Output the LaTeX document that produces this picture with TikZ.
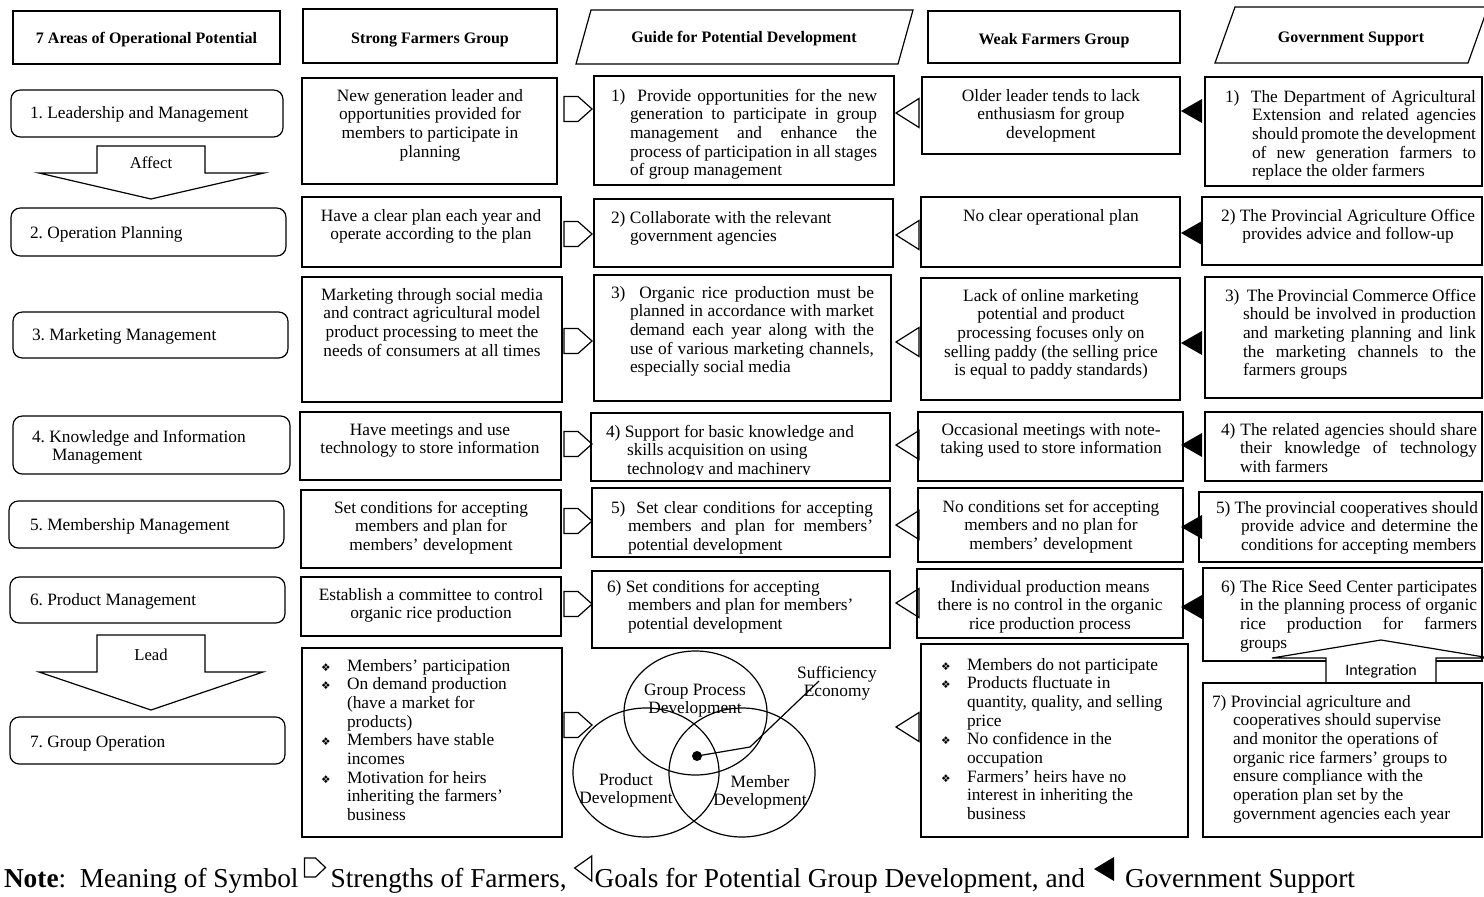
\documentclass[tikz,border=0pt]{standalone}
\usepackage{fontspec}
\setmainfont{Liberation Serif}
\newfontfamily\dvfont{DejaVu Sans}
\newfontfamily\carfont{Carlito}
\usetikzlibrary{fit,calc}
\newlength\px \setlength\px{0.75pt}
\newcommand\JL[2]{\makebox[#1\px][s]{\spaceskip=0pt\relax #2}}
\newcommand\ind[1]{\hspace*{#1\px}}
\newcommand\bul{\makebox[26\px][l]{\dvfont\fontsize{8pt}{8pt}\selectfont ❖}}
\frenchspacing
\begin{document}
\begin{tikzpicture}[x=0.75pt,y=-0.75pt,
  tx/.style={font=\fontsize{13pt}{14pt}\selectfont, inner sep=0pt, outer sep=0pt,
     execute at begin node={\spaceskip=0.25em\relax\xspaceskip=0.25em\relax}},
  lft/.style={font=\fontsize{13pt}{14pt}\selectfont},
  hd/.style={font=\bfseries\fontsize{12pt}{14pt}\selectfont, inner sep=0pt, anchor=base},
  box/.style={draw, line width=0.9pt, inner sep=0pt, outer sep=0pt},
  rbox/.style={box, rounded corners=7pt},
  ln/.style={line width=0.9pt},
  ctx/.style={tx, anchor=base, align=center, text width=#1\px},
  ltx/.style={tx, anchor=base west, align=left, text width=#1\px},
  nt/.style={font=\fontsize{20.5pt}{24pt}\selectfont, inner sep=0pt, outer sep=0pt, anchor=base west}
]
\useasboundingbox (0,0) rectangle (1484,896);

% ---------- headers ----------
\node[box, fit={(13,11) (280,64)}] (hA) {};
\node[hd] (tA) at (146.5,43) {7 Areas of Operational Potential};
\node[box, fit={(303,9) (557,63)}] (hS) {};
\node[hd] (tS) at (430,43) {Strong Farmers Group};
\draw[ln] (591,10) coordinate (hG1) -- (913,10) -- (898,64) -- (576,64) -- cycle;
\node[hd] (tG) at (744,42) {Guide for Potential Development};
\node[box, fit={(928,11) (1180,63)}] (hW) {};
\node[hd] (tW) at (1054,44) {Weak Farmers Group};
\draw[ln] (1235,7) coordinate (hV1) -- (1488,7) -- (1468,63) -- (1215,63) -- cycle;
\node[hd] (tV) at (1351,42) {Government Support};

% ---------- left column ----------
\node[rbox, fit={(11,90) (283,137)}] (L1) {};
\node[ltx=250, lft] (tL1) at (30,118) {1. Leadership and Management};
\node[rbox, fit={(11,208) (286,256)}] (L2) {};
\node[ltx=250, lft] (tL2) at (30,238) {2. Operation Planning};
\node[rbox, fit={(13,312) (288,358)}] (L3) {};
\node[ltx=250, lft] (tL3) at (32,340) {3. Marketing Management};
\node[rbox, fit={(13,416) (290,474)}] (L4) {};
\node[ltx=250, lft] (tL4) at (32,442) {4. Knowledge and Information\\\ind{20}Management};
\node[rbox, fit={(9,501) (284,548)}] (L5) {};
\node[ltx=250, lft] (tL5) at (30,530) {5. Membership Management};
\node[rbox, fit={(10,577) (285,623)}] (L6) {};
\node[ltx=250, lft] (tL6) at (30,605) {6. Product Management};
\node[rbox, fit={(10,717) (285,764)}] (L7) {};
\node[ltx=250, lft] (tL7) at (30,747) {7. Group Operation};

% Affect / Lead arrows
\draw[ln, fill=white] (97,146) -- (205,146) -- (205,173) -- (264,173) -- (151,199) -- (39,173) -- (97,173) -- cycle;
\node[tx, anchor=base, font=\fontsize{12.5pt}{14pt}\selectfont] (affect) at (151,168) {Affect};
\draw[ln, fill=white] (97,635) -- (205,635) -- (205,672) -- (263,672) -- (151,710) -- (39,672) -- (97,672) -- cycle;
\node[tx, anchor=base, font=\fontsize{12.5pt}{14pt}\selectfont] (lead) at (151,660) {Lead};

% ---------- strong column ----------
\node[box, fit={(302,78) (557,184)}] (S1) {};
\node[ctx=250] (tS1) at (430,101) {New generation leader and\\opportunities provided for\\members to participate in\\planning};
\node[box, fit={(302,197) (561,267)}] (S2) {};
\node[ctx=250] (tS2) at (431,221) {Have a clear plan each year and\\operate according to the plan};
\node[box, fit={(302,277) (562,402)}] (S3) {};
\node[ctx=250] (tS3) at (432,300) {Marketing through social media\\and contract agricultural model\\product processing to meet the\\needs of consumers at all times};
\node[box, fit={(300,412) (561,480)}] (S4) {};
\node[ctx=250] (tS4) at (430,435) {Have meetings and use\\technology to store information};
\node[box, fit={(301,490) (561,568)}] (S5) {};
\node[ctx=250] (tS5) at (431,513) {Set conditions for accepting\\members and plan for\\members’ development};
\node[box, fit={(301,577) (561,636)}] (S6) {};
\node[ctx=250] (tS6) at (431,600) {Establish a committee to control\\organic rice production};
\node[box, fit={(302,648) (562,837)}] (S7) {};
\node[ltx=235] (tS7) at (321,671) {\bul Members’ participation\\\bul On demand production\\\ind{26}(have a market for\\\ind{26}products)\\\bul Members have stable\\\ind{26}incomes\\\bul Motivation for heirs\\\ind{26}inheriting the farmers’\\\ind{26}business};

% ---------- guide column ----------
\node[box, fit={(594,76) (894,185)}] (G1) {};
\node[ltx=275] (tG1) at (611,101) {\JL{266}{1)~~Provide opportunities for the new}\\\ind{19}\JL{247}{generation to participate in group}\\\ind{19}\JL{247}{management and enhance the}\\\ind{19}\JL{247}{process of participation in all stages}\\\ind{19}of group management};
\node[box, fit={(594,199) (893,267)}] (G2) {};
\node[ltx=275] (tG2) at (611,223) {2) Collaborate with the relevant\\\ind{19}government agencies};
\node[box, fit={(594,275) (891,401)}] (G3) {};
\node[ltx=275] (tG3) at (611,298) {\JL{263}{3)~~Organic rice production must be}\\\ind{19}\JL{244}{planned in accordance with market}\\\ind{19}\JL{244}{demand each year along with the}\\\ind{19}\JL{244}{use of various marketing channels,}\\\ind{19}especially social media};
\node[box, fit={(591,413) (890,481)}] (G4) {};
\begin{scope}
\clip (591,413) rectangle (890,474);
\node[ltx=275] (tG4) at (606,437) {4) Support for basic knowledge and\\\ind{21}skills acquisition on using\\\ind{21}technology and machinery};
\end{scope}
\node[box, fit={(592,488) (890,557)}] (G5) {};
\node[ltx=275] (tG5) at (611,513) {\JL{262}{5)~~Set clear conditions for accepting}\\\ind{17}\JL{245}{members and plan for members’}\\\ind{17}potential development};
\node[box, fit={(592,571) (890,648)}] (G6) {};
\node[ltx=275] (tG6) at (607,592) {6) Set conditions for accepting\\\ind{21}members and plan for members’\\\ind{21}potential development};

% Venn diagram
\draw[ln] (695.5,713) ellipse [x radius=71.5, y radius=62];
\draw[ln] (646,772.5) ellipse [x radius=73, y radius=64.5];
\draw[ln] (742,772.5) ellipse [x radius=73, y radius=64.5];
\node[ctx=120] (vG) at (695,695) {Group Process\\Development};
\node[ctx=100] (vP) at (626,785) {Product\\Development};
\node[ctx=100] (vM) at (760,787) {Member\\Development};
\node[ctx=100] (vS) at (837,678) {Sufficiency\\Economy};
\node[circle, fill, inner sep=0pt, minimum size=7.5pt] (dot) at (697,756) {};
\coordinate (bend) at (750,747);
\coordinate (lend) at (819,681);
\draw[ln] (dot.center) -- (bend) -- (lend);

% ---------- weak column ----------
\node[box, fit={(922,77) (1180,154)}] (W1) {};
\node[ctx=255] (tW1) at (1051,101) {Older leader tends to lack\\enthusiasm for group\\development};
\node[box, fit={(921,197) (1180,267)}] (W2) {};
\node[ctx=255] (tW2) at (1051,221) {No clear operational plan};
\node[box, fit={(921,278) (1180,400)}] (W3) {};
\node[ctx=255] (tW3) at (1051,301) {Lack of online marketing\\potential and product\\processing focuses only on\\selling paddy (the selling price\\is equal to paddy standards)};
\node[box, fit={(918,412) (1183,481)}] (W4) {};
\node[ctx=255] (tW4) at (1051,435) {Occasional meetings with note-\\taking used to store information};
\node[box, fit={(918,488) (1183,562)}] (W5) {};
\node[ctx=255] (tW5) at (1051,512) {No conditions set for accepting\\members and no plan for\\members’ development};
\node[box, fit={(917,569) (1183,638)}] (W6) {};
\node[ctx=255] (tW6) at (1050,592) {Individual production means\\there is no control in the organic\\rice production process};
\node[box, fit={(921,644) (1188,837)}] (W7) {};
\node[ltx=235] (tW7) at (941,670) {\bul Members do not participate\\\bul Products fluctuate in\\\ind{26}quantity, quality, and selling\\\ind{26}price\\\bul No confidence in the\\\ind{26}occupation\\\bul Farmers’ heirs have no\\\ind{26}interest in inheriting the\\\ind{26}business};

% ---------- government column ----------
\node[box, fit={(1205,77) (1482,186)}] (V1) {};
\node[ltx=265] (tV1) at (1225,102) {\JL{251}{1)~~The Department of Agricultural}\\\ind{27}\JL{224}{Extension and related agencies}\\\ind{27}\JL{224}{should promote the development}\\\ind{27}\JL{224}{of new generation farmers to}\\\ind{27}replace the older farmers};
\node[box, fit={(1202,197) (1482,265)}] (V2) {};
\node[ctx=270] (tV2) at (1348,221) {2) The Provincial Agriculture Office\\provides advice and follow-up};
\node[box, fit={(1205,277) (1482,398)}] (V3) {};
\node[ltx=265] (tV3) at (1225,301) {\JL{251}{3)~~The Provincial Commerce Office}\\\ind{18}\JL{233}{should be involved in production}\\\ind{18}\JL{233}{and marketing planning and link}\\\ind{18}\JL{233}{the marketing channels to the}\\\ind{18}farmers groups};
\node[box, fit={(1205,412) (1482,481)}] (V4) {};
\node[ltx=270] (tV4) at (1221,435) {\JL{256}{4) The related agencies should share}\\\ind{19}\JL{237}{their knowledge of technology}\\\ind{19}with farmers};
\node[box, fit={(1199,492) (1482,562)}] (V5) {};
\node[ltx=270] (tV5) at (1216,513) {\JL{262}{5) The provincial cooperatives should}\\\ind{25}\JL{237}{provide advice and determine the}\\\ind{25}conditions for accepting members};
\node[box, fit={(1203,568) (1482,661)}] (V6) {};
\node[ltx=270] (tV6) at (1221,592) {\JL{256}{6) The Rice Seed Center participates}\\\ind{19}\JL{237}{in the planning process of organic}\\\ind{19}\JL{237}{rice production for farmers}\\\ind{19}groups};
\draw[ln, fill=white] (1381,640) -- (1490,658) -- (1436,658) -- (1436,683) -- (1326,683) -- (1326,658) -- (1272,658) -- cycle;
\node[inner sep=0pt, anchor=base, font=\carfont\fontsize{12pt}{14pt}\selectfont] (integ) at (1381,675) {Integration};
\node[box, fit={(1203,683) (1482,837)}] (V7) {};
\node[ltx=265] (tV7) at (1212,707) {7) Provincial agriculture and\\\ind{21}cooperatives should supervise\\\ind{21}and monitor the operations of\\\ind{21}organic rice farmers’ groups to\\\ind{21}ensure compliance with the\\\ind{21}operation plan set by the\\\ind{21}government agencies each year};

% ---------- symbols ----------
\foreach \c in {109,234,341,444,521,604,725}
  \draw[ln] (564,\c-12.5) -- (578,\c-12.5) -- (592,\c) -- (578,\c+12.5) -- (564,\c+12.5) -- cycle;
\foreach \c in {113,235,342,445,525,603,727}
  \draw[ln] (896,\c) -- (919,\c-14.5) -- (919,\c+14.5) -- cycle;
\foreach \c in {111,233,343,445,527,607}
  \fill (1181,\c) -- (1202,\c-12) -- (1202,\c+12) -- cycle;

% ---------- note ----------
\node[nt] (note1) at (4,887) {\textbf{Note}:~~Meaning of Symbol};
\draw[ln, shift={(note1.base east)}] (6,-29) -- (17,-29) -- (27,-19.5) -- (17,-10) -- (6,-10) -- cycle;
\node[nt] (note2) at ($(note1.base east)+(32,0)$) {Strengths of Farmers,};
\draw[ln, shift={(note2.base east)}] (8,-19) -- (25,-31) -- (25,-6) -- cycle;
\node[nt] (note3) at ($(note2.base east)+(28,0)$) {Goals for Potential Group Development, and};
\fill[shift={(note3.base east)}] (9,-18) -- (29,-30) -- (29,-6) -- cycle;
\node[nt] (note4) at ($(note3.base east)+(40,0)$) {Government Support};
\end{tikzpicture}
\end{document}
